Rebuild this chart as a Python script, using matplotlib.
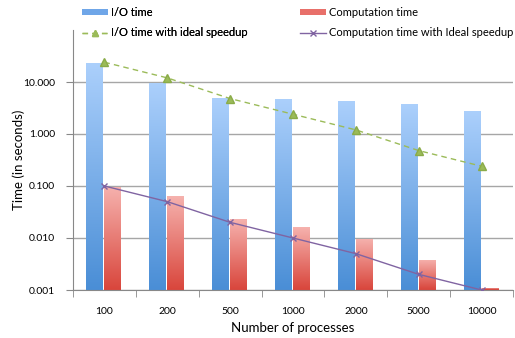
import matplotlib
matplotlib.use('Agg')
import matplotlib.pyplot as plt
import matplotlib.transforms as mtransforms
from matplotlib.colors import LinearSegmentedColormap
from matplotlib.patches import Patch
from matplotlib.lines import Line2D
import numpy as np

plt.rcParams['font.family'] = ['Lato', 'DejaVu Sans']

processes = ['100', '200', '500', '1000', '2000', '5000', '10000']
io_time = [24.0, 10.0, 5.0, 4.85, 4.5, 3.9, 2.8]
comp_time = [0.100, 0.066, 0.0235, 0.0163, 0.0099, 0.0039, 0.0011]
io_ideal = [24.0, 12.0, 4.8, 2.4, 1.2, 0.48, 0.24]
comp_ideal = [0.100, 0.050, 0.020, 0.010, 0.005, 0.002, 0.001]

fig = plt.figure(figsize=(5.15, 3.38), dpi=100)
ax = fig.add_axes([73 / 515, 48 / 338, 440 / 515, 260 / 338])

ax.set_yscale('log')
ax.set_xlim(-0.5, len(processes) - 0.5)
ax.set_ylim(0.001, 100)

x = np.arange(len(processes))
w = 0.286

# vertical gradient fill, light at the top of each bar
blue = LinearSegmentedColormap.from_list('blue', ['#4a8ed6', '#acd0fc'])
red = LinearSegmentedColormap.from_list('red', ['#d9463c', '#f6b3af'])
grad = np.linspace(0, 1, 256).reshape(-1, 1)
trans = mtransforms.blended_transform_factory(ax.transData, ax.transAxes)
to_axes = ax.transScale + ax.transLimits


def gradient_bars(xpos, vals, cmap):
    bars = ax.bar(xpos, vals, w, bottom=0.001, color='none', edgecolor='none', zorder=2)
    for b, v, xc in zip(bars, vals, xpos):
        top = to_axes.transform((xc, v))[1]
        im = ax.imshow(grad, cmap=cmap, origin='lower', aspect='auto',
                       extent=(xc - w / 2, xc + w / 2, 0, top),
                       transform=trans, zorder=2, interpolation='bilinear')
        im.set_clip_path(b)


gradient_bars(x - w / 2, io_time, blue)
gradient_bars(x + w / 2, comp_time, red)

ax.plot(x, io_ideal, color='#9bbb59', ls=(0, (4, 3)), lw=1, marker='^',
        ms=5.5, mfc='#9bbb59', mec='#8aab48', zorder=3)
ax.plot(x, comp_ideal, color='#8064a2', lw=1, marker='x', ms=5, mew=1, zorder=3)

ax.set_yticks([0.001, 0.01, 0.1, 1, 10])
ax.set_yticklabels(['0.001', '0.010', '0.100', '1.000', '10.000'])
ax.yaxis.set_minor_locator(matplotlib.ticker.NullLocator())
ax.grid(axis='y', color='#a6a6a6', lw=1)
ax.set_axisbelow(True)

ax.set_xticks(x)
ax.set_xticklabels(processes)
ax.set_xticks(np.arange(len(processes) + 1) - 0.5, minor=True)
ax.tick_params(axis='x', which='major', length=0, pad=12, labelsize=7.5)
ax.tick_params(axis='x', which='minor', length=5, color='#888888')
ax.tick_params(axis='y', length=5, color='#888888', labelsize=7.5, pad=8)

for s in ['top', 'right']:
    ax.spines[s].set_visible(False)
for s in ['left', 'bottom']:
    ax.spines[s].set_color('#888888')

ax.set_xlabel('Number of processes', fontsize=9.5)
ax.set_ylabel('Time (in seconds)', fontsize=9.5)
ax.xaxis.set_label_coords(0.5, -0.125)
ax.yaxis.set_label_coords(-0.108, 0.5)

leg_kw = dict(loc='upper left', frameon=False, fontsize=8, handlelength=2.3,
              handleheight=0.5, handletextpad=0.3, labelspacing=0.85,
              borderaxespad=0, borderpad=0)
left = fig.legend(
    [Patch(facecolor='#6fa6e8', edgecolor='none'),
     Line2D([], [], color='#9bbb59', ls=(0, (4, 3)), lw=1, marker='^', ms=5)],
    ['I/O time', 'I/O time with ideal speedup'],
    bbox_to_anchor=(82 / 515, 1 - 7 / 338), **leg_kw)
fig.add_artist(left)
fig.legend(
    [Patch(facecolor='#e8706a', edgecolor='none'),
     Line2D([], [], color='#8064a2', lw=1, marker='x', ms=5)],
    ['Computation time', 'Computation time with Ideal speedup'],
    bbox_to_anchor=(300 / 515, 1 - 7 / 338), **leg_kw)

fig.savefig('out.png', dpi=100)
